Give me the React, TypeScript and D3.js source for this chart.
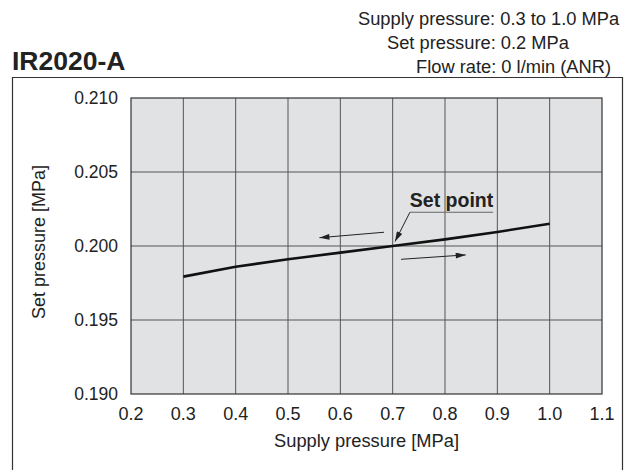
import React from 'react';
import * as d3 from 'd3';

// supply pressure [MPa] vs resulting set pressure [MPa]
const supplyPressure = [0.3, 0.4, 0.5, 0.6, 0.7, 0.8, 0.9, 1.0];
const setPressure = [0.19793, 0.1986, 0.1991, 0.19955, 0.2, 0.20045, 0.20095, 0.2015];

const xTicks = [0.2, 0.3, 0.4, 0.5, 0.6, 0.7, 0.8, 0.9, 1.0, 1.1];
const yTicks = [0.19, 0.195, 0.2, 0.205, 0.21];

const headerLines = [
  'Supply pressure: 0.3 to 1.0 MPa',
  'Set pressure: 0.2 MPa',
  'Flow rate: 0 l/min (ANR)',
];

// arrows drawn in data coordinates: [x1, y1, x2, y2]
const arrows = [
  [0.6835, 0.20093, 0.56, 0.20056],
  [0.716, 0.1991, 0.8396, 0.1994],
];
const setPoint = { label: 'Set point', x: 0.8125, y: 0.20262, lineY: 0.20228, x0: 0.733, x1: 0.892, tipX: 0.7045, tipY: 0.2003 };

const W = 638;
const H = 470;
const margin = { left: 131, right: 36, top: 98, bottom: 76 };
const font = '"Liberation Sans", Arial, Helvetica, sans-serif';

const App: React.FC = () => {
  const x = d3.scaleLinear().domain([0.2, 1.1]).range([margin.left, W - margin.right]);
  const y = d3.scaleLinear().domain([0.19, 0.21]).range([H - margin.bottom, margin.top]);

  const line = d3
    .line<number>()
    .x((_, i) => x(supplyPressure[i]))
    .y((d) => y(d));

  const headerX = [358, 387, 416];
  const headerY = [25, 49, 73];

  return (
    <>
      <style>{'body{margin:0}'}</style>
      <svg width={W} height={H} style={{ display: 'block', fontFamily: font }}>
        <defs>
          <marker id="head" viewBox="0 0 10 6" refX="10" refY="3" markerWidth="14" markerHeight="6" markerUnits="userSpaceOnUse" orient="auto">
            <path d="M0,0 L10,3 L0,6 Z" fill="#222" />
          </marker>
        </defs>
        <rect width={W} height={H} fill="#fff" />

        {headerLines.map((t, i) => (
          <text key={t} x={headerX[i]} y={headerY[i]} fontSize={18.3} fill="#222">
            {t}
          </text>
        ))}
        <text x={12} y={70} fontSize={26.5} fontWeight="bold" fill="#222">
          IR2020-A
        </text>

        {/* outer frame, open at the bottom */}
        <path d={`M12.5,${H} V77.5 H622.5 V${H}`} fill="none" stroke="#333" strokeWidth={1.2} />

        {/* plot area */}
        <rect
          x={x(0.2)}
          y={y(0.21)}
          width={x(1.1) - x(0.2)}
          height={y(0.19) - y(0.21)}
          fill="#e1e2e3"
        />
        {xTicks.slice(1, -1).map((t) => (
          <line key={t} x1={x(t)} x2={x(t)} y1={y(0.21)} y2={y(0.19)} stroke="#555" strokeWidth={1} />
        ))}
        {yTicks.slice(1, -1).map((t) => (
          <line key={t} x1={x(0.2)} x2={x(1.1)} y1={y(t)} y2={y(t)} stroke="#555" strokeWidth={1} />
        ))}
        <rect
          x={x(0.2)}
          y={y(0.21)}
          width={x(1.1) - x(0.2)}
          height={y(0.19) - y(0.21)}
          fill="none"
          stroke="#333"
          strokeWidth={1.2}
        />

        {xTicks.map((t) => (
          <text key={t} x={x(t)} y={420} fontSize={18} textAnchor="middle" fill="#222">
            {t.toFixed(1)}
          </text>
        ))}
        {yTicks.map((t) => (
          <text key={t} x={118} y={y(t)} dy="0.35em" fontSize={17.5} textAnchor="end" fill="#222">
            {t.toFixed(3)}
          </text>
        ))}

        <text x={(x(0.2) + x(1.1)) / 2} y={447} fontSize={18.3} textAnchor="middle" fill="#222">
          Supply pressure [MPa]
        </text>
        <text transform={`translate(45,${(y(0.19) + y(0.21)) / 2 - 4}) rotate(-90)`} fontSize={18} textAnchor="middle" fill="#222">
          Set pressure [MPa]
        </text>

        <path d={line(setPressure) ?? ''} fill="none" stroke="#111" strokeWidth={2.6} />

        {arrows.map((a, i) => (
          <line key={i} x1={x(a[0])} y1={y(a[1])} x2={x(a[2])} y2={y(a[3])} stroke="#222" strokeWidth={1} markerEnd="url(#head)" />
        ))}

        <text x={x(setPoint.x)} y={y(setPoint.y)} fontSize={19.5} fontWeight="bold" textAnchor="middle" fill="#222">
          {setPoint.label}
        </text>
        <line x1={x(setPoint.x0)} x2={x(setPoint.x1)} y1={y(setPoint.lineY)} y2={y(setPoint.lineY)} stroke="#666" strokeWidth={1.2} />
        <line x1={x(setPoint.x0)} y1={y(setPoint.lineY)} x2={x(setPoint.tipX)} y2={y(setPoint.tipY)} stroke="#222" strokeWidth={1} markerEnd="url(#head)" />
      </svg>
    </>
  );
};

export default App;
